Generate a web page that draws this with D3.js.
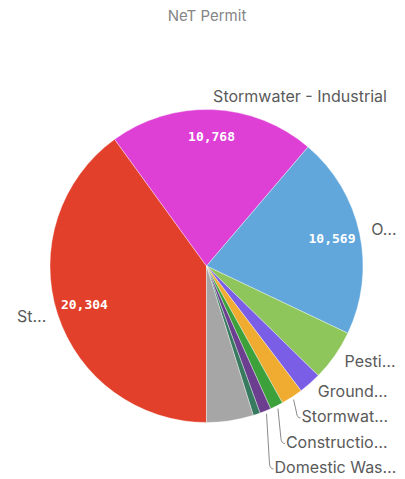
<!DOCTYPE html>
<html>
<head>
<meta charset="utf-8">
<script src="https://cdn.jsdelivr.net/npm/d3@7/dist/d3.min.js"></script>
<style>
  html, body { margin: 0; padding: 0; background: #fff; }
  svg { display: block; }
</style>
</head>
<body>
<svg id="chart" width="405" height="479"></svg>
<script>
// ---- data ----
const title = "NeT Permit";
const categories = ["St…", "Stormwater - Industrial", "O…", "Pesti…", "Ground…", "Stormwat…", "Constructio…", "Domestic Was…", "Other A", "Others"];
const values = [20304, 10768, 10569, 2680, 1180, 1150, 680, 590, 370, 2450];
const valueLabels = ["20,304", "10,768", "10,569", null, null, null, null, null, null, null];
const showLabel = [true, true, true, true, true, true, true, true, false, false];
const colors = ["#e2402a", "#de40d6", "#61a7dc", "#8fc65c", "#7a5fe6", "#f0ac31", "#3ca13a", "#6b3e8f", "#387a60", "#a6a6a6"];

// ---- layout ----
const W = 405, H = 479;
const cx = 206.5, cy = 266, R = 156.5;
const svg = d3.select("#chart");

svg.append("text")
  .attr("x", 207).attr("y", 17)
  .attr("text-anchor", "middle").attr("dominant-baseline", "middle")
  .attr("font-family", "Inter, 'Open Sans', sans-serif")
  .attr("font-size", 15).attr("fill", "#858585")
  .text(title);

const data = categories.map((c, i) => ({ name: c, value: values[i], color: colors[i], vlabel: valueLabels[i], show: showLabel[i] }));

const pie = d3.pie().sort(null).value(d => d.value)
  .startAngle(Math.PI).endAngle(3 * Math.PI);
const arcs = pie(data);
const arc = d3.arc().innerRadius(0).outerRadius(R);

const g = svg.append("g").attr("transform", `translate(${cx},${cy})`);
g.selectAll("path.slice").data(arcs).enter().append("path")
  .attr("class", "slice")
  .attr("d", arc)
  .attr("fill", d => d.data.color)
  .attr("stroke", "#ffffff").attr("stroke-opacity", 0.6).attr("stroke-width", 0.6);

// inner value labels
const inArc = d3.arc().innerRadius(R * 0.82).outerRadius(R * 0.82);
g.selectAll("text.val").data(arcs.filter(d => d.data.vlabel)).enter().append("text")
  .attr("class", "val")
  .attr("transform", d => `translate(${inArc.centroid(d)})`)
  .attr("text-anchor", "middle").attr("dominant-baseline", "middle")
  .attr("font-family", "'DejaVu Sans Mono', monospace")
  .attr("font-weight", "bold")
  .attr("font-size", 13).attr("fill", "#ffffff")
  .text(d => d.data.vlabel);

// outer labels with simple collision avoidance
const labR = R + 12;
const labels = arcs.filter(d => d.data.show).map(d => {
  const a = (d.startAngle + d.endAngle) / 2;
  const s = Math.sin(a), c = -Math.cos(a);
  return { d, a, s, x: labR * s, y: labR * c, y0: labR * c, right: s >= 0 };
});
const spacing = 25.5;
const rightSide = labels.filter(l => l.right && Math.abs(l.s) > 0.2).sort((a, b) => a.y - b.y);
for (let i = 1; i < rightSide.length; i++) {
  if (rightSide[i].y < rightSide[i - 1].y + spacing) {
    rightSide[i].y = rightSide[i - 1].y + spacing;
    rightSide[i].pushed = true;
  }
}

labels.forEach(l => {
  let tx = l.x, ty = l.y;
  if (l.pushed) {
    const px = (R + 3) * l.s, py = (R + 3) * Math.cos(l.a) * -1;
    g.append("path")
      .attr("d", `M${px},${py} L${px + 3},${ty - 5} Q${px + 3.5},${ty} ${px + 7},${ty}`)
      .attr("fill", "none").attr("stroke", "#8a8a8a").attr("stroke-width", 1);
    tx = px + 8;
  }
  g.append("text")
    .attr("x", tx).attr("y", ty)
    .attr("text-anchor", l.right ? "start" : "end")
    .attr("dominant-baseline", "middle")
    .attr("font-family", "Inter, 'Open Sans', sans-serif")
    .attr("font-size", 16).attr("fill", "#5a5a5a")
    .text(l.d.data.name);
});
</script>
</body>
</html>
